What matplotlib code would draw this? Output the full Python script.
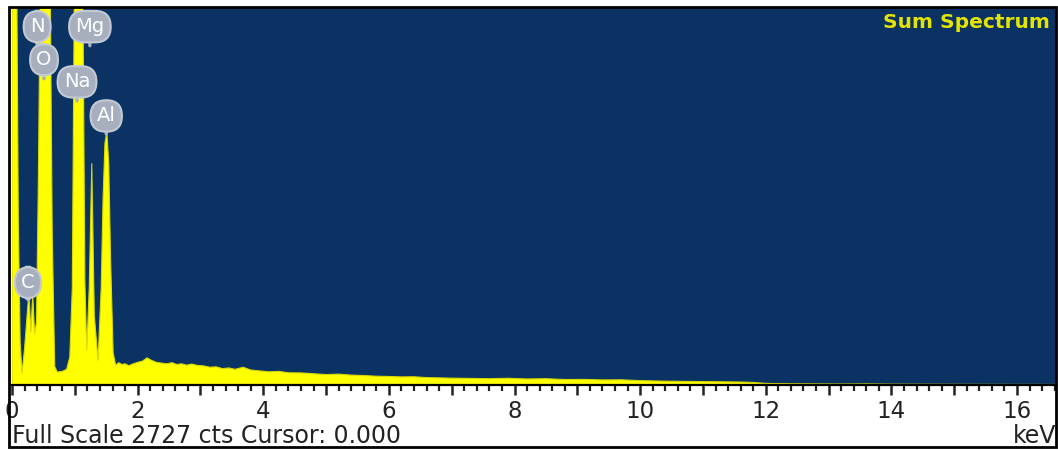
import matplotlib.pyplot as plt
from matplotlib.patches import Rectangle
from matplotlib.ticker import MultipleLocator

# EDS spectrum (keV, counts); peaks above full scale get clipped
energy = [0.00, 0.07, 0.10, 0.13, 0.16, 0.20, 0.24, 0.27, 0.30, 0.33, 0.36, 0.39,
          0.42, 0.46, 0.60, 0.64, 0.68, 0.72, 0.80, 0.87, 0.92, 0.96, 1.00, 1.12,
          1.16, 1.19, 1.23, 1.27, 1.31, 1.37, 1.42, 1.45, 1.48, 1.51, 1.54, 1.57,
          1.61, 1.65, 1.70, 1.75, 1.80, 1.86, 1.93, 2.00, 2.08, 2.15, 2.22, 2.30,
          2.38, 2.46, 2.55, 2.62, 2.70, 2.78, 2.86, 2.95, 3.05, 3.15, 3.25, 3.35,
          3.45, 3.55, 3.68, 3.80, 3.95, 4.10, 4.25, 4.40, 4.60, 4.80, 5.00, 5.20,
          5.40, 5.60, 5.80, 6.00, 6.20, 6.40, 6.60, 6.80, 7.00, 7.30, 7.60, 7.90,
          8.20, 8.50, 8.80, 9.10, 9.40, 9.70, 10.00, 10.40, 10.80, 11.20, 11.60,
          11.80, 12.00, 12.40, 12.80, 13.20, 13.60, 14.00, 15.00, 16.62]
counts = [3400, 3400, 1200, 300, 85, 260, 500, 665, 380, 650, 370, 450,
          1500, 3400, 3400, 1100, 130, 90, 95, 110, 200, 700, 3400, 3400,
          750, 250, 700, 1600, 500, 175, 700, 1350, 1750, 1830, 1600, 900,
          230, 140, 158, 145, 150, 136, 150, 160, 170, 193, 175, 160,
          155, 150, 158, 145, 150, 140, 148, 138, 135, 125, 128, 115,
          120, 110, 125, 105, 98, 92, 95, 85, 84, 78, 72, 75,
          68, 65, 60, 58, 55, 56, 50, 48, 46, 44, 42, 45,
          40, 42, 36, 37, 33, 34, 28, 24, 22, 20, 18,
          15, 8, 5, 4, 3, 4, 2, 1, 0]

elements = ["N", "Mg", "O", "Na", "Al", "C"]
label_kev = [0.40, 1.24, 0.51, 1.035, 1.50, 0.255]
label_cts = [2592, 2592, 2352, 2192, 1945, 738]
stem_cts = [2461, 2454, 2214, 2054, 1814, 614]

full_scale = 2727
kev_max = 16.62

W, H = 1058, 450
fig = plt.figure(figsize=(W / 100, H / 100), dpi=100)
fig.patch.set_facecolor("white")
ax = fig.add_axes([12 / W, (H - 384.5) / H, (1056 - 12) / W, (384.5 - 8) / H])
ax.set_facecolor("#0a3364")

ax.fill_between(energy, counts, 0, color="#ffff00", edgecolor="#d8d800", linewidth=0.8)
ax.set_xlim(0, kev_max)
ax.set_ylim(0, full_scale)

# element badges
for el, x, y, ys in zip(elements, label_kev, label_cts, stem_cts):
    ax.annotate(el, xy=(x, ys), xytext=(x, y), ha="center", va="center",
                fontsize=14, color="white",
                bbox=dict(boxstyle="round,pad=0.32,rounding_size=0.8",
                          fc="#a7afbf", ec="#c3c9d4", lw=1.5),
                arrowprops=dict(arrowstyle="-", color="#a7afbf", lw=2.4,
                                shrinkA=0, shrinkB=0))

ax.text(0.9945, 0.962, "Sum Spectrum", transform=ax.transAxes, ha="right", va="center",
        fontsize=14.5, fontweight="bold", color="#e4e400", family="DejaVu Sans")

# axes styling
for side in ["top", "left", "right"]:
    ax.spines[side].set_visible(False)
ax.spines["bottom"].set_linewidth(1.6)
ax.yaxis.set_visible(False)
ax.xaxis.set_major_locator(MultipleLocator(1))
ax.xaxis.set_minor_locator(MultipleLocator(0.2))
ax.tick_params(axis="x", which="major", direction="out", length=7, width=1.8,
               color="#222222", labelsize=16.5, labelcolor="#222222", pad=4)
ax.tick_params(axis="x", which="minor", direction="out", length=4, width=1.6,
               color="#222222")
ax.set_xticks(range(0, 17))
ax.set_xticklabels([str(v) if v % 2 == 0 else "" for v in range(0, 17)])

fig.text(12 / W, 1 - 436 / H, "Full Scale 2727 cts Cursor: 0.000", ha="left", va="center",
         fontsize=17, color="#222222")
fig.text(1056 / W, 1 - 436 / H, "keV", ha="right", va="center",
         fontsize=17, color="#222222")

# outer frame
fig.patches.append(Rectangle((9 / W, 1 - 447 / H), (1056 - 9) / W, (447 - 7) / H,
                             transform=fig.transFigure, fill=False, ec="black", lw=2))

fig.savefig("out.png", dpi=100)
